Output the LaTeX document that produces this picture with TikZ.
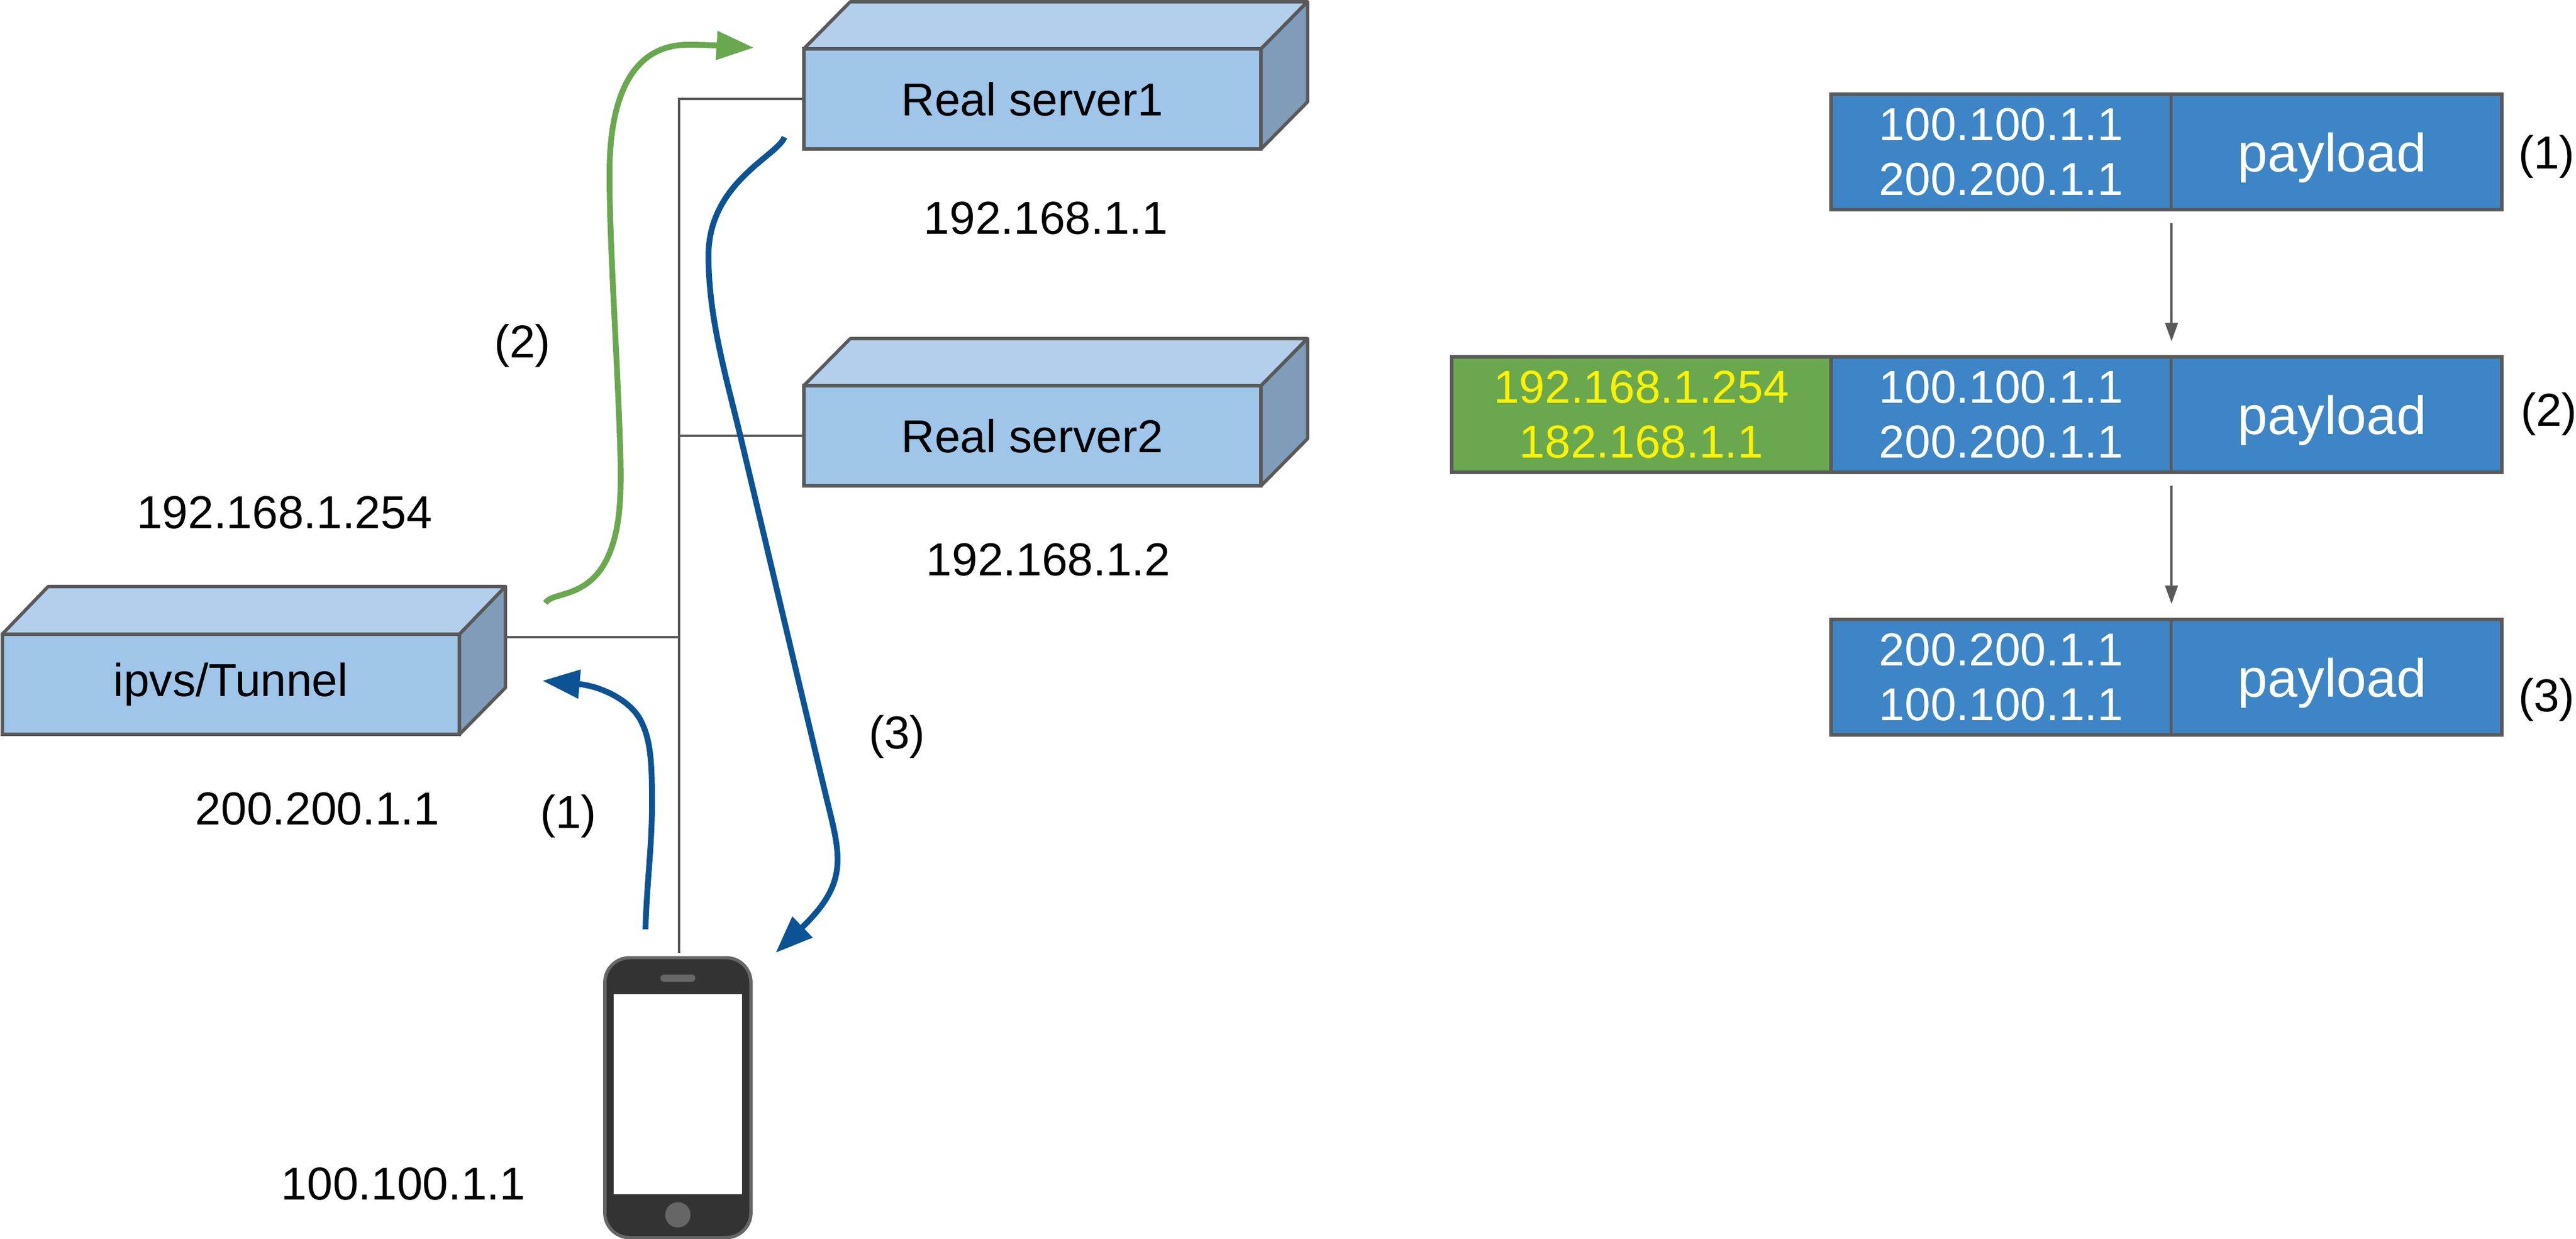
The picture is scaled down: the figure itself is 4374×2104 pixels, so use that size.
\documentclass[tikz,border=0pt]{standalone}
\usepackage{fontspec}
\setmainfont{Liberation Sans}
\usetikzlibrary{arrows.meta}
\definecolor{boxfront}{HTML}{9FC5E8}
\definecolor{boxtop}{HTML}{B3CFEB}
\definecolor{boxside}{HTML}{7F9DB9}
\definecolor{edgegrey}{HTML}{595959}
\definecolor{pktblue}{HTML}{3D85C6}
\definecolor{pktgreen}{HTML}{6AA84F}
\definecolor{flowblue}{HTML}{0B5394}
\definecolor{phonedark}{HTML}{333333}
\definecolor{phonegrey}{HTML}{666666}

\begin{document}
\begin{tikzpicture}[x=0.01cm,y=-0.01cm]
  \useasboundingbox (0,0) rectangle (4374,2104);
  \tikzstyle{BoxFront}=[draw=edgegrey,line width=1.6pt,fill=boxfront,outer sep=0,
    minimum width=7.76cm,minimum height=1.7cm,font=\fontsize{22.3}{26}\selectfont]
  \tikzstyle{BoxTop}=[draw=edgegrey,line width=1.6pt,line join=round,fill=boxtop]
  \tikzstyle{BoxSide}=[draw=edgegrey,line width=1.6pt,line join=round,fill=boxside]
  \tikzstyle{Wire}=[draw=edgegrey,line width=1.3pt]
  \tikzstyle{Lbl}=[inner sep=0,anchor=base,font=\fontsize{22.3}{26}\selectfont]
  \tikzstyle{Cell}=[draw=edgegrey,line width=1.6pt,outer sep=0,inner sep=0,
    minimum height=1.96cm,text=white,align=center,font=\fontsize{22.3}{26.5}\selectfont]
  \tikzstyle{HdrCell}=[Cell,fill=pktblue,minimum width=5.78cm]
  \tikzstyle{PayCell}=[Cell,fill=pktblue,minimum width=5.61cm,text height=0.85cm,
    text depth=0.19cm,font=\fontsize{26}{30}\selectfont]
  \tikzstyle{TunCell}=[Cell,fill=pktgreen,minimum width=6.44cm,text=yellow]
  \tikzstyle{PktFlow}=[draw=edgegrey,line width=1.2pt,shorten <=0.23cm,shorten >=0.26cm,
    -{Triangle[length=9pt,width=6pt]}]
  \tikzstyle{GreenFlow}=[draw=pktgreen,line width=2.8pt,-{Triangle[length=18pt,width=13.4pt]}]
  \tikzstyle{BlueFlow}=[draw=flowblue,line width=2.8pt,-{Triangle[length=18pt,width=13.4pt]}]
  % boxes
  \node[BoxFront] (ipvs) at (392,1162) {ipvs/Tunnel};
  \draw[BoxTop] (ipvs.north west) -- ++(78,-81) -- ++(777,0) -- (ipvs.north east) -- cycle;
  \draw[BoxSide] (ipvs.north east) -- ++(78,-81) -- ++(0,172) -- (ipvs.south east) -- cycle;
  \node[BoxFront] (server1) at (1753,168) {Real server1};
  \draw[BoxTop] (server1.north west) -- ++(79,-80) -- ++(776,0) -- (server1.north east) -- cycle;
  \draw[BoxSide] (server1.north east) -- ++(79,-80) -- ++(0,170) -- (server1.south east) -- cycle;
  \node[BoxFront] (server2) at (1753,740) {Real server2};
  \draw[BoxTop] (server2.north west) -- ++(79,-80) -- ++(776,0) -- (server2.north east) -- cycle;
  \draw[BoxSide] (server2.north east) -- ++(79,-80) -- ++(0,170) -- (server2.south east) -- cycle;
  % phone
  \node[draw=phonegrey,line width=1.6pt,fill=phonedark,rounded corners=0.42cm,outer sep=0,
    minimum width=2.48cm,minimum height=4.75cm] (phone) at (1151,1864) {};
  \node[fill=white,inner sep=0,minimum width=2.18cm,minimum height=3.4cm] (screen) at (1151,1858) {};
  \node[fill=phonegrey,rounded corners=0.05cm,inner sep=0,minimum width=0.59cm,minimum height=0.12cm] (speaker) at (1151,1661) {};
  \node[fill=phonegrey,circle,inner sep=0,minimum size=0.43cm] (homekey) at (1151,2063) {};
  % wires
  \coordinate (busEnd) at (1153,1618);
  \coordinate (ipvsPort) at (859,1082);
  \draw[Wire] (server1.west) -| (busEnd);
  \draw[Wire] (server2.west) -- (server2.west -| busEnd);
  \draw[Wire] (ipvsPort) -- (ipvsPort -| busEnd);
  % flows
  \coordinate (a1) at (1096,1578);
  \coordinate (a2) at (921,1156);
  \coordinate (b1) at (926,1024);
  \coordinate (b2) at (1280,81);
  \coordinate (c1) at (1332,233);
  \coordinate (c2) at (1317,1618);
  \draw[BlueFlow] (a1) .. controls (1098,1500) and (1108,1430) .. (1107,1355)
    .. controls (1107,1300) and (1105,1260) .. (1091,1230)
    .. controls (1075,1190) and (1020,1165) .. (a2);
  \draw[GreenFlow] (b1) .. controls (938,1004) and (1000,1018) .. (1033,944)
    .. controls (1052,900) and (1056,850) .. (1053,760)
    .. controls (1048,600) and (1034,400) .. (1035,287)
    .. controls (1036,190) and (1060,75) .. (1170,76)
    .. controls (1200,76) and (1230,78) .. (b2);
  \draw[BlueFlow] (c1) .. controls (1320,265) and (1203,310) .. (1203,434)
    .. controls (1203,540) and (1233,640) .. (1257,740)
    .. controls (1300,920) and (1385,1280) .. (1405,1362)
    .. controls (1428,1456) and (1440,1500) .. (c2);
  % labels
  \node[Lbl] (ipA) at (483,898) {192.168.1.254};
  \node[Lbl] (ipB) at (539,1401) {200.200.1.1};
  \node[Lbl] (ipC) at (685,2037) {100.100.1.1};
  \node[Lbl] (ipD) at (1776,398) {192.168.1.1};
  \node[Lbl] (ipE) at (1780,978) {192.168.1.2};
  \node[Lbl] (stepA) at (965,1406) {(1)};
  \node[Lbl] (stepB) at (887,608) {(2)};
  \node[Lbl] (stepC) at (1523,1272) {(3)};
  % packets
  \node[HdrCell] (hdr1) at (3398,258) {100.100.1.1\\200.200.1.1};
  \node[PayCell] (pay1) at (3967,258) {\hspace*{-0.14cm}payload};
  \node[TunCell] (tun2) at (2787,704) {192.168.1.254\\182.168.1.1};
  \node[HdrCell] (hdr2) at (3398,704) {100.100.1.1\\200.200.1.1};
  \node[PayCell] (pay2) at (3967,704) {\hspace*{-0.14cm}payload};
  \node[HdrCell] (hdr3) at (3398,1150) {200.200.1.1\\100.100.1.1};
  \node[PayCell] (pay3) at (3967,1150) {\hspace*{-0.14cm}payload};
  \draw[PktFlow] (hdr1.south east) -- (hdr2.north east);
  \draw[PktFlow] (hdr2.south east) -- (hdr3.north east);
  \node[Lbl] (rowA) at (4324,287) {(1)};
  \node[Lbl] (rowB) at (4328,724) {(2)};
  \node[Lbl] (rowC) at (4324,1209) {(3)};
\end{tikzpicture}
\end{document}
